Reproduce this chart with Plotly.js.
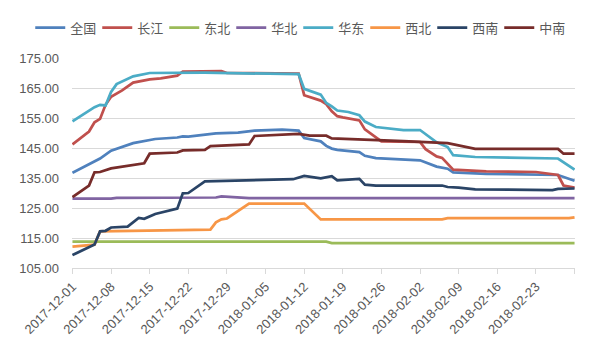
<!DOCTYPE html>
<html>
<head>
<meta charset="utf-8">
<script src="https://cdn.plot.ly/plotly-3.0.1.min.js"></script>
<style>
html,body{margin:0;padding:0;background:#fff;}
#chart{width:600px;height:347px;}
</style>
</head>
<body>
<div id="chart"></div>
<script>
// Series names (legend order)
const seriesNames = ['全国', '长江', '东北', '华北', '华东', '西北', '西南', '中南'];
const seriesColors = ['#4F81BD', '#C0504D', '#9BBB59', '#8064A2', '#4BACC6', '#F79646', '#2A4466', '#772C2A'];

// 全国
const qgDates = ['2017-12-01','2017-12-06','2017-12-08','2017-12-12','2017-12-16','2017-12-20','2017-12-21','2017-12-22','2017-12-27','2017-12-31','2018-01-03','2018-01-08','2018-01-11','2018-01-12','2018-01-15','2018-01-16','2018-01-17','2018-01-18','2018-01-22','2018-01-23','2018-01-25','2018-01-30','2018-02-02','2018-02-05','2018-02-07','2018-02-08','2018-02-14','2018-02-27','2018-03-02'];
const qgVals  = [136.7,141.5,144.1,146.6,148.0,148.5,148.9,148.8,149.9,150.1,150.8,151.1,150.8,148.3,147.2,145.7,144.8,144.4,143.6,142.4,141.6,141.2,140.9,138.8,138.1,136.9,136.4,136.0,134.1];

// 长江
const cjDates = ['2017-12-01','2017-12-04','2017-12-05','2017-12-06','2017-12-07','2017-12-08','2017-12-10','2017-12-12','2017-12-15','2017-12-17','2017-12-20','2017-12-21','2017-12-28','2017-12-29','2018-01-11','2018-01-12','2018-01-15','2018-01-16','2018-01-17','2018-01-18','2018-01-19','2018-01-22','2018-01-23','2018-01-25','2018-01-26','2018-02-02','2018-02-03','2018-02-05','2018-02-06','2018-02-08','2018-02-14','2018-02-23','2018-02-27','2018-02-28','2018-03-02'];
const cjVals  = [146.2,150.5,153.6,154.7,159.4,162.1,164.2,166.8,167.9,168.2,169.1,170.5,170.6,170.0,169.8,162.6,160.8,159.6,157.2,155.6,155.2,154.2,151.2,148.5,147.2,147.0,144.6,142.2,141.7,137.8,137.2,137.0,136.0,132.5,131.8];

// 东北
const dbDates = ['2017-12-01','2018-01-16','2018-01-17','2018-03-02'];
const dbVals  = [113.8,113.8,113.3,113.3];

// 华北
const hbDates = ['2017-12-01','2017-12-08','2017-12-09','2017-12-27','2017-12-28','2017-12-30','2018-01-02','2018-03-02'];
const hbVals  = [128.1,128.1,128.4,128.5,128.9,128.7,128.3,128.3];

// 华东
const hdDates = ['2017-12-01','2017-12-05','2017-12-06','2017-12-07','2017-12-08','2017-12-09','2017-12-12','2017-12-15','2017-12-25','2018-01-05','2018-01-11','2018-01-12','2018-01-15','2018-01-16','2018-01-17','2018-01-18','2018-01-20','2018-01-22','2018-01-23','2018-01-25','2018-01-27','2018-01-30','2018-02-02','2018-02-05','2018-02-07','2018-02-08','2018-02-12','2018-02-27','2018-03-02'];
const hdVals  = [153.9,158.6,159.4,159.2,163.7,166.3,168.9,170.0,170.1,169.8,169.6,164.7,162.8,160.0,158.9,157.5,157.0,155.9,153.8,152.0,151.5,151.0,151.0,146.9,145.3,142.6,142.0,141.5,137.8];

// 西北
const xbDates = ['2017-12-01','2017-12-05','2017-12-06','2017-12-16','2017-12-20','2017-12-26','2017-12-27','2017-12-28','2017-12-29','2018-01-02','2018-01-12','2018-01-15','2018-02-06','2018-02-07','2018-03-01','2018-03-02'];
const xbVals  = [112.1,112.8,117.2,117.4,117.7,117.8,120.2,121.2,121.5,126.5,126.5,121.2,121.2,121.6,121.6,121.9];

// 西南
const xnDates = ['2017-12-01','2017-12-05','2017-12-06','2017-12-07','2017-12-08','2017-12-11','2017-12-13','2017-12-14','2017-12-16','2017-12-20','2017-12-21','2017-12-22','2017-12-25','2017-12-31','2018-01-02','2018-01-10','2018-01-12','2018-01-15','2018-01-17','2018-01-18','2018-01-22','2018-01-23','2018-01-25','2018-02-06','2018-02-07','2018-02-09','2018-02-12','2018-02-26','2018-02-27','2018-03-02'];
const xnVals  = [109.3,112.8,117.2,117.4,118.5,118.8,121.7,121.4,123.0,124.8,129.9,130.0,133.9,134.1,134.3,134.6,135.7,134.9,135.6,134.2,134.7,132.8,132.5,132.5,132.0,131.8,131.2,131.0,131.4,131.5];

// 中南
const znDates = ['2017-12-01','2017-12-04','2017-12-05','2017-12-06','2017-12-08','2017-12-11','2017-12-14','2017-12-15','2017-12-20','2017-12-21','2017-12-25','2017-12-26','2017-12-31','2018-01-02','2018-01-03','2018-01-11','2018-01-13','2018-01-16','2018-01-17','2018-01-25','2018-01-30','2018-02-07','2018-02-09','2018-02-12','2018-02-27','2018-02-28','2018-03-02'];
const znVals  = [128.6,132.5,136.9,137.0,138.2,139.1,139.9,143.1,143.5,144.2,144.4,145.6,146.0,146.2,149.0,149.7,149.1,149.1,148.2,147.8,147.3,146.6,145.9,144.7,144.7,143.1,143.1];

// X tick labels
const xTickVals = ['2017-12-01','2017-12-08','2017-12-15','2017-12-22','2017-12-29','2018-01-05','2018-01-12','2018-01-19','2018-01-26','2018-02-02','2018-02-09','2018-02-16','2018-02-23','2018-03-02'];
const xTickText = ['2017-12-01','2017-12-08','2017-12-15','2017-12-22','2017-12-29','2018-01-05','2018-01-12','2018-01-19','2018-01-26','2018-02-02','2018-02-09','2018-02-16','2018-02-23',''];
const yTickVals = [105,115,125,135,145,155,165,175];

const allDates = [qgDates, cjDates, dbDates, hbDates, hdDates, xbDates, xnDates, znDates];
const allVals  = [qgVals, cjVals, dbVals, hbVals, hdVals, xbVals, xnVals, znVals];

const traces = seriesNames.map((name, i) => ({
  type: 'scatter',
  mode: 'lines',
  name: name,
  x: allDates[i],
  y: allVals[i],
  line: {color: seriesColors[i], width: 2.75},
  hoverinfo: 'x+y+name'
}));

const fontFam = '"Liberation Sans", Arial, "Noto Sans CJK SC", sans-serif';

const layout = {
  width: 600,
  height: 347,
  margin: {l: 72, r: 25, t: 47, b: 79},
  paper_bgcolor: '#ffffff',
  plot_bgcolor: '#ffffff',
  font: {family: fontFam, size: 13, color: '#595959'},
  showlegend: true,
  legend: {
    orientation: 'h',
    x: -0.083, xanchor: 'left',
    y: 1.145, yanchor: 'middle',
    font: {family: '"Noto Sans CJK SC", "Liberation Sans", sans-serif', size: 13, color: '#595959'},
    itemwidth: 30,
    entrywidth: 22,
    entrywidthmode: 'pixels',
    tracegroupgap: 0,
    bgcolor: 'rgba(0,0,0,0)'
  },
  xaxis: {
    type: 'date',
    range: ['2017-11-30 22:00', '2018-03-02 02:00'],
    tickmode: 'array',
    tickvals: xTickVals,
    ticktext: xTickText,
    tickangle: -45,
    ticks: 'outside',
    ticklen: 5,
    tickcolor: '#D9D9D9',
    showgrid: false,
    showline: true,
    linecolor: '#D9D9D9',
    linewidth: 1,
    zeroline: false,
    tickfont: {family: fontFam, size: 13, color: '#595959'}
  },
  yaxis: {
    range: [105, 175],
    tickmode: 'array',
    tickvals: yTickVals,
    tickformat: '.2f',
    showgrid: true,
    gridcolor: '#D9D9D9',
    gridwidth: 1,
    showline: false,
    zeroline: false,
    ticks: '',
    ticklabelstandoff: 12,
    tickfont: {family: fontFam, size: 13, color: '#595959'}
  }
};

Plotly.newPlot('chart', traces, layout, {displayModeBar: false, staticPlot: true});
</script>
</body>
</html>
